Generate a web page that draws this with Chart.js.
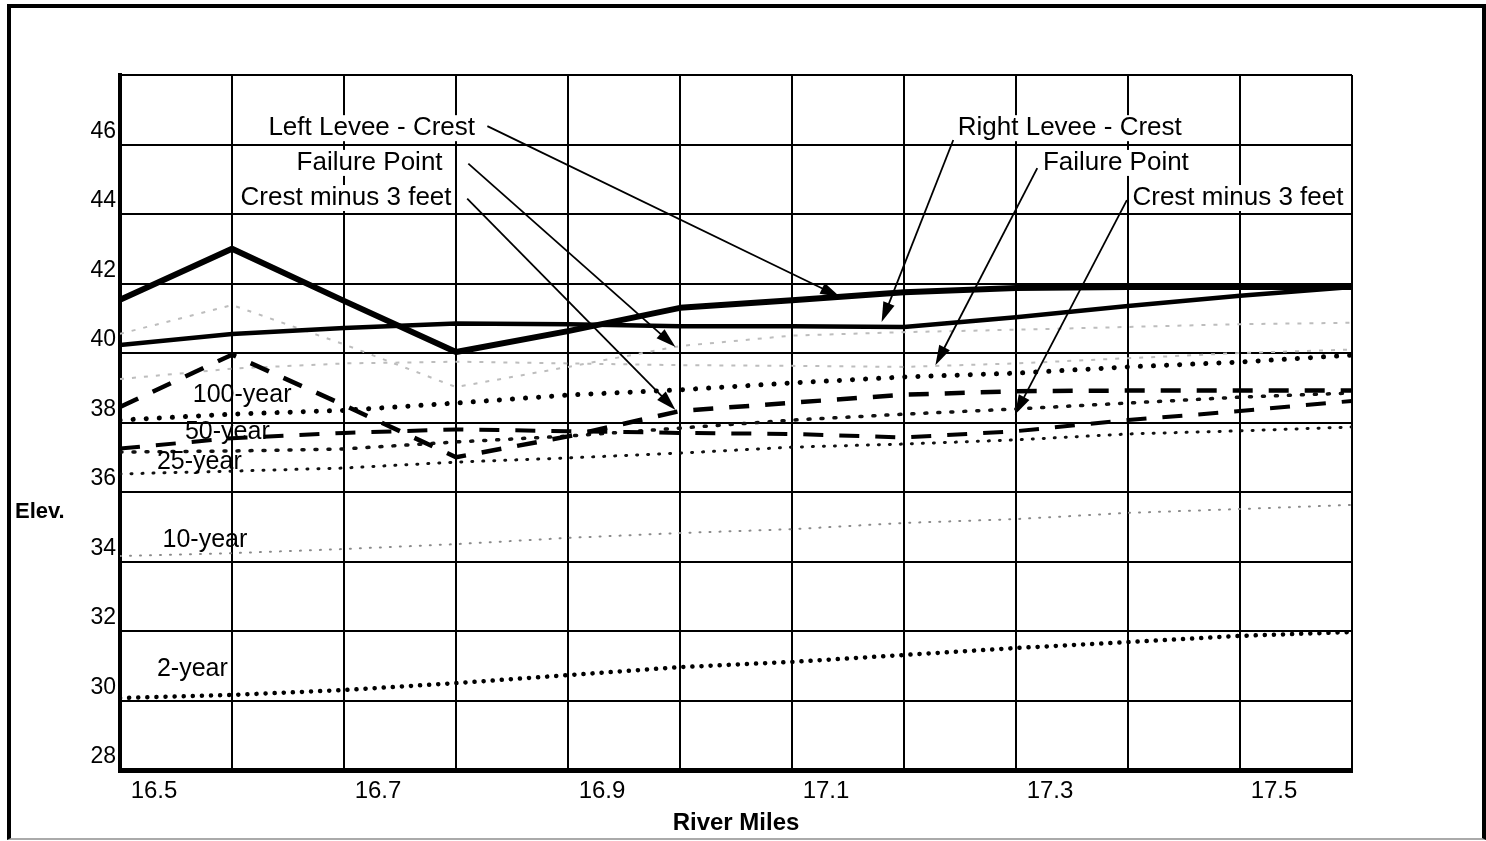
<!DOCTYPE html>
<html lang="en">
<head>
<meta charset="UTF-8">
<title>Levee Crest and Flood Profiles</title>
<script src="https://cdn.jsdelivr.net/npm/chart.js"></script>
<style>
    html, body { margin: 0; padding: 0; background: #fff; }
    #wrap { position: relative; width: 1486px; height: 841px; overflow: hidden; }
    #frame {
        position: absolute; left: 7px; top: 4px; width: 1471px; height: 830px;
        border-left: 4px solid #000; border-top: 4px solid #000;
        border-right: 4px solid #000; border-bottom: 2px solid #aaa;
    }
    canvas { position: absolute; left: 0; top: 0; }
</style>
</head>
<body>
<div id="wrap">
    <div id="frame"></div>
    <canvas id="profileChart" width="1486" height="841"></canvas>
</div>
<script>
// river mile stations (one vertical grid line each)
const stations = [16.47, 16.57, 16.67, 16.77, 16.87, 16.97, 17.07, 17.17, 17.27, 17.37, 17.47, 17.57];
const mileTicks = [16.5, 16.7, 16.9, 17.1, 17.3, 17.5];
const elevTicks = [28, 30, 32, 34, 36, 38, 40, 42, 44, 46];
const elevGrid = [27.55, 29.55, 31.55, 33.55, 35.55, 37.55, 39.55, 41.55, 43.55, 45.55, 47.55];

const leftCrest    = [41.08, 42.55, 41.05, 39.58, 40.18, 40.85, 41.07, 41.30, 41.42, 41.45, 41.45, 41.45];
const rightCrest   = [39.78, 40.10, 40.27, 40.40, 40.38, 40.32, 40.32, 40.30, 40.58, 40.90, 41.20, 41.45];
const leftFailure  = [40.10, 40.93, 39.80, 38.57, 39.15, 39.75, 40.05, 40.15, 40.22, 40.30, 40.38, 40.42];
const rightFailure = [38.80, 39.10, 39.25, 39.30, 39.25, 39.20, 39.18, 39.15, 39.25, 39.40, 39.55, 39.65];
const leftMinus3   = [38.00, 39.50, 38.05, 36.55, 37.15, 37.88, 38.12, 38.35, 38.45, 38.47, 38.47, 38.47];
const rightMinus3  = [36.80, 37.10, 37.25, 37.35, 37.30, 37.25, 37.22, 37.12, 37.30, 37.62, 37.88, 38.17];
const year100 = [37.62, 37.79, 37.90, 38.11, 38.34, 38.49, 38.69, 38.86, 38.97, 39.15, 39.29, 39.49];
const year50  = [36.70, 36.73, 36.79, 36.99, 37.16, 37.39, 37.62, 37.79, 37.94, 38.11, 38.28, 38.40];
const year25  = [36.07, 36.15, 36.24, 36.41, 36.53, 36.67, 36.84, 36.93, 37.05, 37.22, 37.31, 37.42];
const year10  = [33.71, 33.79, 33.91, 34.05, 34.23, 34.37, 34.48, 34.66, 34.77, 34.95, 35.06, 35.18];
const year2   = [29.62, 29.71, 29.85, 30.05, 30.28, 30.51, 30.66, 30.86, 31.06, 31.23, 31.41, 31.52];

// callouts (river mile, elevation)
const calloutText  = ['Left Levee - Crest', 'Failure Point', 'Crest minus 3 feet', 'Right Levee - Crest', 'Failure Point', 'Crest minus 3 feet'];
const calloutAlign = ['right', 'right', 'right', 'left', 'left', 'left'];
const calloutX = [16.787, 16.758, 16.766, 17.218, 17.294, 17.374];
const calloutY = [46.02, 45.02, 44.01, 46.02, 45.02, 44.01];
const arrowFromX = [16.798, 16.781, 16.780, 17.214, 17.289, 17.369];
const arrowFromY = [46.08, 45.00, 43.99, 45.68, 44.87, 43.95];
const arrowToX = [17.113, 16.966, 16.966, 17.150, 17.198, 17.269];
const arrowToY = [41.16, 39.72, 37.91, 40.44, 39.20, 37.77];

const profileNames  = ['100-year', '50-year', '25-year', '10-year', '2-year'];
const profileLabelX = [16.535, 16.528, 16.503, 16.508, 16.503];
const profileLabelY = [38.34, 37.28, 36.41, 34.17, 30.46];
const elevLabelY = 34.97;

function series(label, values, style) {
    return Object.assign({
        label: label,
        data: stations.map((s, i) => ({ x: s, y: values[i] })),
        pointRadius: 0,
        tension: 0,
        fill: false,
        borderJoinStyle: 'round'
    }, style);
}

const notes = {
    id: 'notes',
    afterDatasetsDraw(chart) {
        const { ctx, scales: { x, y } } = chart;
        ctx.save();

        // arrows
        ctx.strokeStyle = '#000';
        ctx.fillStyle = '#000';
        ctx.lineWidth = 1.8;
        for (let i = 0; i < arrowFromX.length; i++) {
            const x0 = x.getPixelForValue(arrowFromX[i]), y0 = y.getPixelForValue(arrowFromY[i]);
            const x1 = x.getPixelForValue(arrowToX[i]), y1 = y.getPixelForValue(arrowToY[i]);
            const a = Math.atan2(y1 - y0, x1 - x0);
            ctx.beginPath();
            ctx.moveTo(x0, y0);
            ctx.lineTo(x1 - 14 * Math.cos(a), y1 - 14 * Math.sin(a));
            ctx.stroke();
            ctx.beginPath();
            ctx.moveTo(x1, y1);
            ctx.lineTo(x1 - 20 * Math.cos(a) + 6 * Math.sin(a), y1 - 20 * Math.sin(a) - 6 * Math.cos(a));
            ctx.lineTo(x1 - 20 * Math.cos(a) - 6 * Math.sin(a), y1 - 20 * Math.sin(a) + 6 * Math.cos(a));
            ctx.closePath();
            ctx.fill();
        }

        // callout labels on white
        ctx.font = '26px "Liberation Sans", Arial, sans-serif';
        ctx.textBaseline = 'middle';
        for (let i = 0; i < calloutText.length; i++) {
            const px = x.getPixelForValue(calloutX[i]), py = y.getPixelForValue(calloutY[i]);
            const w = ctx.measureText(calloutText[i]).width;
            const left = calloutAlign[i] === 'right' ? px - w : px;
            ctx.fillStyle = '#fff';
            ctx.fillRect(left - 3, py - 13, w + 6, 26);
            ctx.fillStyle = '#000';
            ctx.textAlign = 'left';
            ctx.fillText(calloutText[i], left, py);
        }

        // flood profile names
        ctx.font = '25px "Liberation Sans", Arial, sans-serif';
        ctx.textAlign = 'left';
        for (let i = 0; i < profileNames.length; i++) {
            ctx.fillText(profileNames[i], x.getPixelForValue(profileLabelX[i]), y.getPixelForValue(profileLabelY[i]));
        }

        // horizontal axis name on the left
        ctx.font = 'bold 22px "Liberation Sans", Arial, sans-serif';
        ctx.fillText('Elev.', y.left + 15, y.getPixelForValue(elevLabelY));
        ctx.restore();
    }
};

new Chart(document.getElementById('profileChart'), {
    type: 'line',
    data: {
        datasets: [
            series('Left Levee - Crest', leftCrest, { borderColor: '#000', borderWidth: 6 }),
            series('Right Levee - Crest', rightCrest, { borderColor: '#000', borderWidth: 4.5 }),
            series('Left Crest minus 3 feet', leftMinus3, { borderColor: '#000', borderWidth: 4.5, borderDash: [20, 16] }),
            series('Right Crest minus 3 feet', rightMinus3, { borderColor: '#000', borderWidth: 4, borderDash: [20, 16] }),
            series('100-year', year100, { borderColor: '#000', borderWidth: 5, borderDash: [0.1, 13], borderCapStyle: 'round' }),
            series('50-year', year50, { borderColor: '#111', borderWidth: 3.5, borderDash: [2, 11], borderCapStyle: 'round' }),
            series('25-year', year25, { borderColor: '#111', borderWidth: 3, borderDash: [1, 10], borderCapStyle: 'round' }),
            series('10-year', year10, { borderColor: '#8a8a8a', borderWidth: 2, borderDash: [1, 9], borderCapStyle: 'round' }),
            series('2-year', year2, { borderColor: '#000', borderWidth: 4.5, borderDash: [0.1, 9], borderCapStyle: 'round' }),
            series('Left Failure Point', leftFailure, { borderColor: '#bdbdbd', borderWidth: 2, borderDash: [4, 8] }),
            series('Right Failure Point', rightFailure, { borderColor: '#bdbdbd', borderWidth: 2, borderDash: [4, 8] })
        ]
    },
    options: {
        responsive: false,
        animation: false,
        layout: { padding: { left: 0, top: 75, right: 134, bottom: 0 } },
        plugins: { legend: { display: false }, tooltip: { enabled: false } },
        scales: {
            x: {
                type: 'linear',
                min: stations[0],
                max: stations[stations.length - 1],
                afterBuildTicks: s => { s.ticks = stations.map(v => ({ value: v })); },
                afterFit: s => { s.height = 71; },
                grid: { color: '#000', lineWidth: 2, drawTicks: false },
                border: { color: '#000', width: 5 },
                ticks: {
                    autoSkip: false, maxRotation: 0, padding: 7, labelOffset: 34, color: '#000',
                    font: { family: '"Liberation Sans", Arial, sans-serif', size: 24 },
                    callback: (v, i) => (i % 2 === 0 && mileTicks[i / 2] !== undefined) ? String(mileTicks[i / 2]) : ''
                },
                title: {
                    display: true, text: 'River Miles', color: '#000', padding: { top: 0, bottom: 3 },
                    font: { family: '"Liberation Sans", Arial, sans-serif', size: 24, weight: 'bold' }
                }
            },
            y: {
                min: elevGrid[0],
                max: elevGrid[elevGrid.length - 1],
                afterBuildTicks: s => { s.ticks = elevGrid.map(v => ({ value: v })); },
                afterFit: s => { s.width = 120; },
                grid: { color: '#000', lineWidth: 2, drawTicks: false },
                border: { color: '#000', width: 4 },
                ticks: {
                    autoSkip: false, padding: 4, labelOffset: -13, color: '#000',
                    font: { family: '"Liberation Sans", Arial, sans-serif', size: 23 },
                    callback: (v, i) => elevTicks[i] !== undefined ? String(elevTicks[i]) : ''
                }
            }
        }
    },
    plugins: [notes]
});
</script>
</body>
</html>
